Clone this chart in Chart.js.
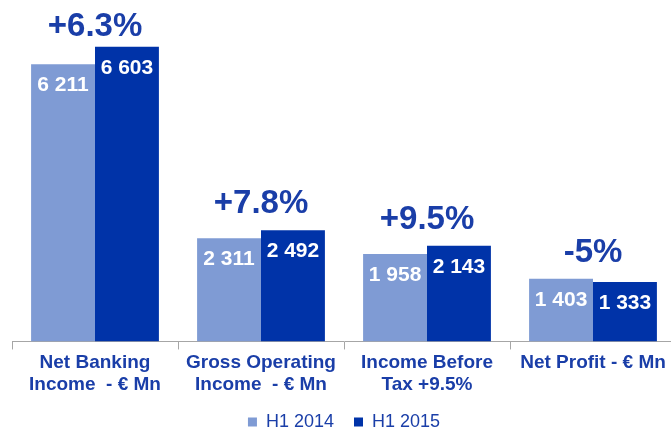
<!DOCTYPE html>
<html>
<head>
<meta charset="utf-8">
<script src="https://cdn.jsdelivr.net/npm/chart.js@4/dist/chart.umd.min.js"></script>
<style>
  html, body { margin: 0; padding: 0; background: #fff; overflow: hidden; }
  #wrap { width: 671px; height: 429px; overflow: hidden; }
</style>
</head>
<body>
<div id="wrap"><canvas id="myChart" width="690" height="429"></canvas></div>
<script>
// ---- data
var categories = [
    ["Net Banking", "Income  - \u20ac Mn"],
    ["Gross Operating", "Income  - \u20ac Mn"],
    ["Income Before", "Tax +9.5%"],
    ["Net Profit - \u20ac Mn"]
];
var h1_2014 = [6211, 2311, 1958, 1403];
var h1_2015 = [6603, 2492, 2143, 1333];
var changes = ["+6.3%", "+7.8%", "+9.5%", "-5%"];

var LIGHT = '#7f9bd4';
var DARK = '#0033a8';
var TEXT = '#1a3ea8';
var FONT = '"Liberation Sans", Arial, sans-serif';

function fmt(v){
    // thousands with a space
    return String(v).replace(/\B(?=(\d{3})+(?!\d))/g, ' ');
}

// labels inside bars + change % above each pair
var labelPlugin = {
    id: 'labels',
    afterDatasetsDraw: function(chart){
        var ctx = chart.ctx;
        var xs = chart.scales.x, ys = chart.scales.y;
        ctx.save();
        ctx.textAlign = 'center';
        ctx.textBaseline = 'middle';
        ctx.fillStyle = '#fff';
        ctx.font = 'bold 21px ' + FONT;
        chart.data.datasets.forEach(function(ds, di){
            chart.getDatasetMeta(di).data.forEach(function(bar, i){
                ctx.fillText(fmt(ds.data[i]), bar.x, bar.y + 21);
            });
        });
        ctx.fillStyle = TEXT;
        ctx.font = 'bold 33px ' + FONT;
        for(var i = 0; i < changes.length; i++){
            var top = Math.max(h1_2014[i], h1_2015[i]);
            // keep the % label off the top edge
            var y = Math.max(ys.getPixelForValue(top) - 26, chart.chartArea.top + 27);
            ctx.fillText(changes[i], xs.getPixelForValue(i), y);
        }
        ctx.restore();
    }
};

var ctx = document.getElementById("myChart");
var myChart = new Chart(ctx, {
    type: 'bar',
    data: {
        labels: categories,
        datasets: [
            {label: 'H1 2014', data: h1_2014, backgroundColor: LIGHT},
            {label: 'H1 2015', data: h1_2015, backgroundColor: DARK}
        ]
    },
    options: {
        responsive: false,
        animation: false,
        layout: {padding: {left: 12, right: 14, top: 0, bottom: -12}},
        datasets: {bar: {categoryPercentage: 0.77, barPercentage: 1.0}},
        plugins: {
            tooltip: {enabled: false},
            legend: {
                position: 'bottom',
                labels: {
                    boxWidth: 9, boxHeight: 9, padding: 20,
                    color: TEXT,
                    font: {family: FONT, size: 18}
                }
            }
        },
        scales: {
            x: {
                offset: true,
                grid: {display: true, drawOnChartArea: false, offset: true, tickLength: 8, color: '#a6a6a6'},
                border: {display: true, color: '#a6a6a6'},
                ticks: {
                    color: TEXT, padding: 3,
                    font: {family: FONT, size: 19, weight: 'bold', lineHeight: 1.12}
                },
                afterFit: function(scale){ scale.height -= 5; }
            },
            y: {
                display: false,
                min: 0, max: 7650
            }
        }
    },
    plugins: [labelPlugin]
});
</script>
</body>
</html>
